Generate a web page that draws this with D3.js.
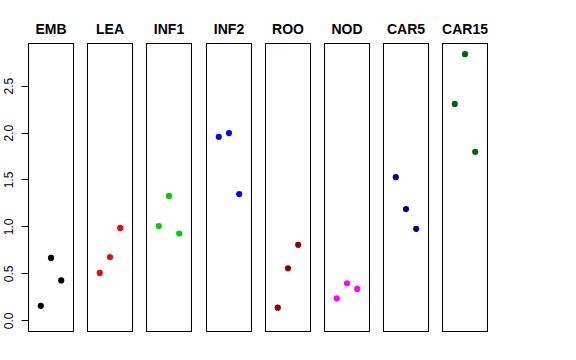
<!DOCTYPE html>
<html><head><meta charset="utf-8">
<script src="https://cdn.jsdelivr.net/npm/d3@7"></script>
<style>body{margin:0;background:#fff}svg{display:block}</style>
</head><body><svg id="c" width="576" height="360"></svg>
<script>
const categories = ["EMB","LEA","INF1","INF2","ROO","NOD","CAR5","CAR15"];
const colors = ["#000000","#FF0000","#00CD00","#0000FF","#8B0000","#FF00FF","#00008B","#006400"];
const valuesRep1 = [0.16,0.51,1.01,1.96,0.14,0.24,1.53,2.31];
const valuesRep2 = [0.67,0.68,1.33,2.00,0.56,0.40,1.19,2.84];
const valuesRep3 = [0.43,0.99,0.93,1.35,0.81,0.34,0.98,1.80];
const yTicks = [0,0.5,1,1.5,2,2.5];
const yTickLabels = ["0.0","0.5","1.0","1.5","2.0","2.5"];

(function(){
const svg = d3.select("#c");
const all = valuesRep1.concat(valuesRep2, valuesRep3);
const lo = 0, hi = d3.max(all), r = hi - lo;
const plotTop = 43.5, plotBottom = 331.5;
const y = d3.scaleLinear().domain([lo - 0.04*r, hi + 0.04*r]).range([plotBottom, plotTop]);
const panelW = 45, step = 59.2, left0 = 28.5;
const panelX = d3.scaleLinear().domain([0, 1]).range([left0, left0 + step]);
const x = d3.scaleLinear().domain([-0.2, 4.2]).range([0, panelW]);

categories.forEach((cat, i) => {
  const px = Math.round(panelX(i) - 0.5) + 0.5;
  const g = svg.append("g").attr("transform", `translate(${px},0)`);
  g.append("rect").attr("x", 0).attr("y", plotTop).attr("width", panelW).attr("height", plotBottom - plotTop)
    .attr("fill", "none").attr("stroke", "#000").attr("stroke-width", 1);
  g.append("text").attr("x", panelW/2).attr("y", 34).attr("text-anchor", "middle")
    .attr("font-family", "Liberation Sans, Arial, sans-serif").attr("font-weight", "bold")
    .attr("font-size", 14).text(cat);
  const pts = [valuesRep1[i], valuesRep2[i], valuesRep3[i]];
  g.selectAll("circle").data(pts).join("circle")
    .attr("cx", (d, j) => x(j + 1)).attr("cy", d => y(d)).attr("r", 3.1)
    .attr("fill", colors[i]);
});

const ax = svg.append("g").attr("transform", `translate(${left0},0)`);
ax.append("line").attr("x1", 0).attr("x2", 0).attr("y1", y(yTicks[0])).attr("y2", y(yTicks[yTicks.length-1]))
  .attr("stroke", "#000");
yTicks.forEach((t, k) => {
  const yy = Math.round(y(t) - 0.5) + 0.5;
  ax.append("line").attr("x1", -7).attr("x2", 0).attr("y1", yy).attr("y2", yy).attr("stroke", "#000");
  ax.append("text").attr("transform", `translate(${-15.3},${y(t)}) rotate(-90)`)
    .attr("text-anchor", "middle").attr("font-family", "Liberation Sans, Arial, sans-serif")
    .attr("font-size", 12).text(yTickLabels[k]);
});
})();
</script></body></html>
